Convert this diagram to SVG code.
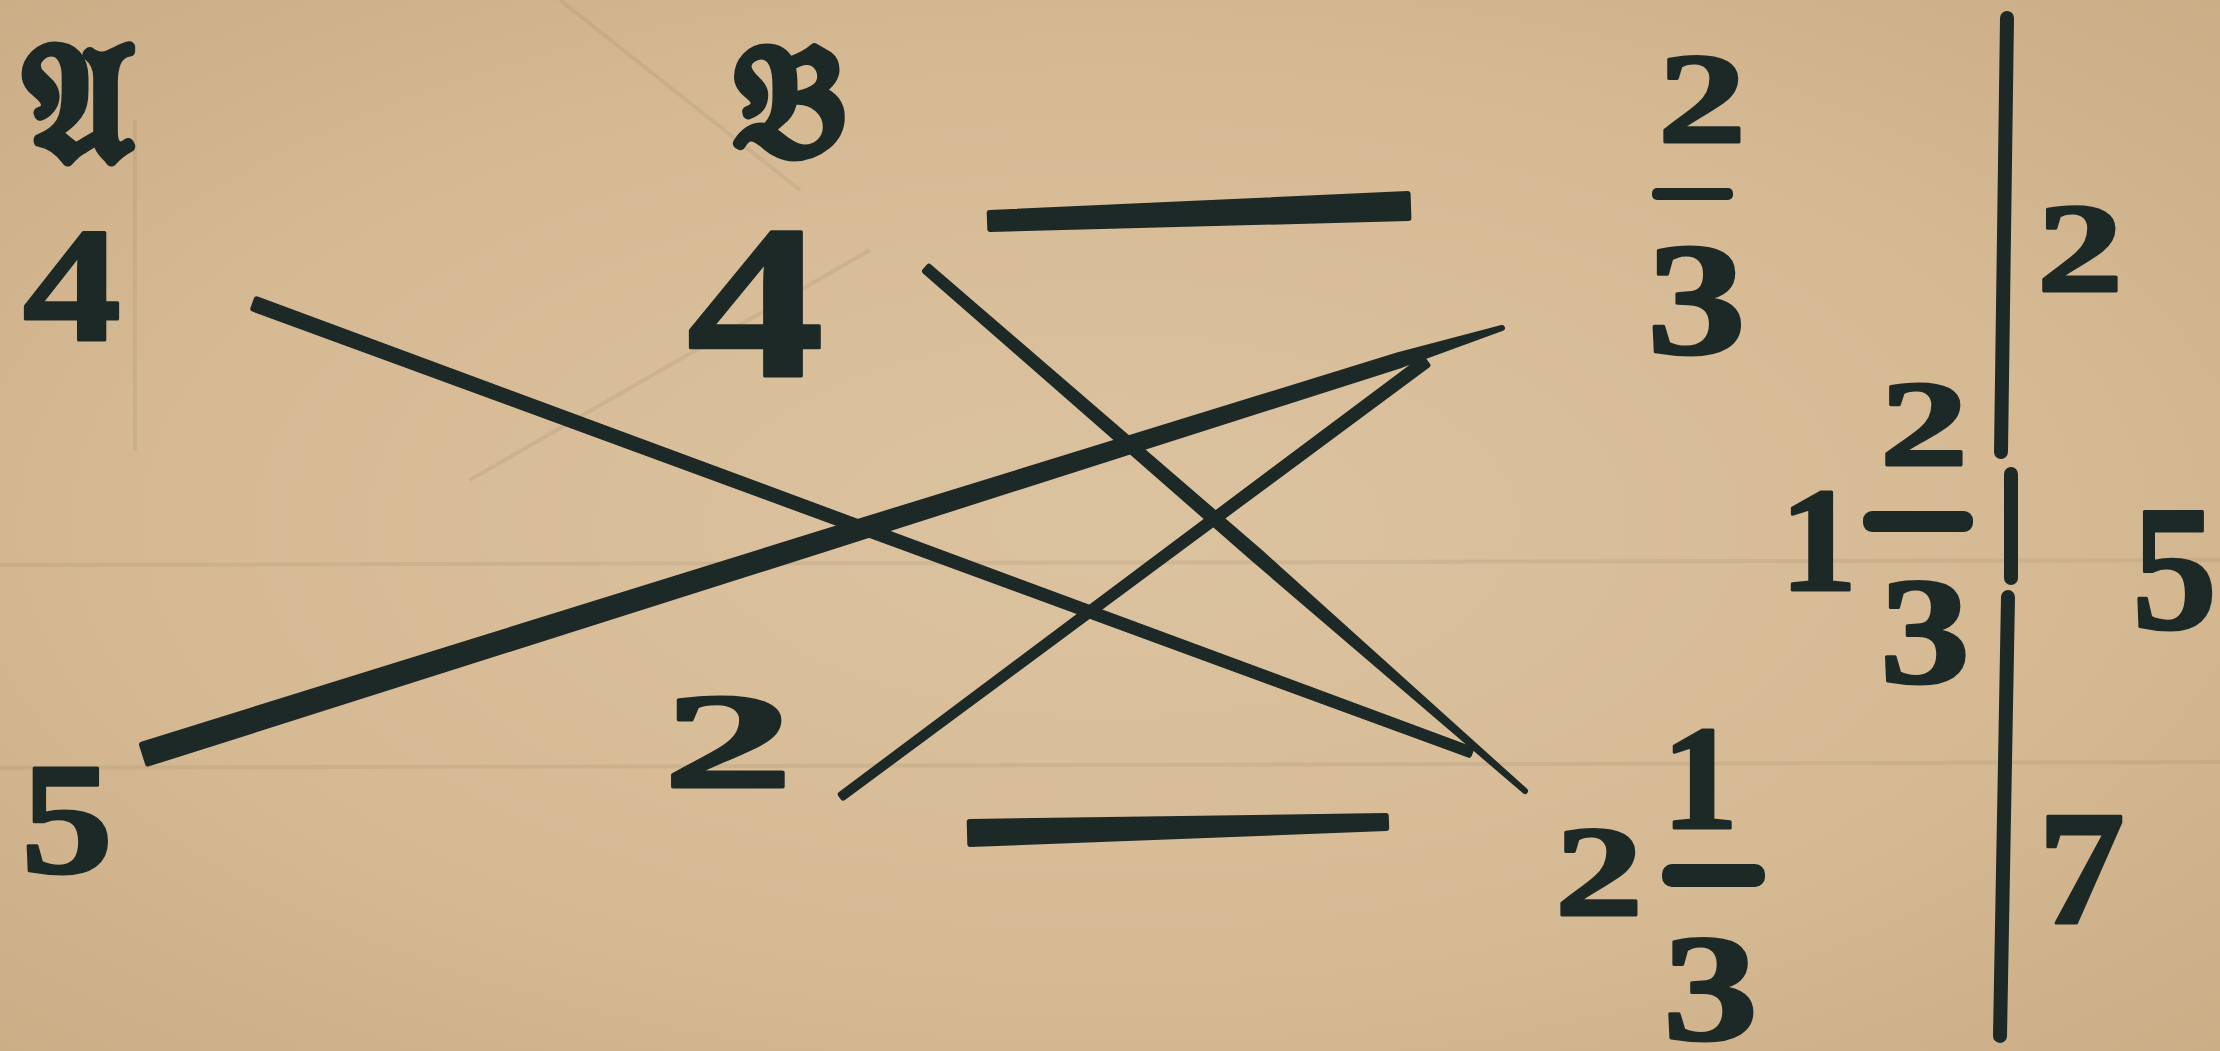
<svg xmlns="http://www.w3.org/2000/svg" width="2220" height="1051" viewBox="0 0 2220 1051">
  <defs>
    <radialGradient id="paper" cx="50%" cy="50%" r="75%">
      <stop offset="0" stop-color="#dcc3a0"/>
      <stop offset="0.6" stop-color="#d5b993"/>
      <stop offset="1" stop-color="#c9ab84"/>
    </radialGradient>
    <style>
      .ink { fill: #1d2926; }
      .stroke { fill: #1d2926; stroke: #1d2926; stroke-width: 6; stroke-linejoin: round; }
      .rule { stroke: #1d2926; stroke-width: 14; stroke-linecap: round; fill: none; }
      .ghost { stroke: #6e5c42; stroke-width: 4; opacity: 0.1; fill: none; }
      .num { font-family: "Liberation Serif", "DejaVu Serif", serif; font-weight: bold; fill: #1d2926; stroke: #1d2926; stroke-width: 3; stroke-linejoin: round; }
      .frak { font-family: "DejaVu Serif", "DejaVu Sans", "Noto Sans", "Liberation Serif", serif; font-weight: bold; fill: #1d2926; stroke: #1d2926; stroke-width: 6; stroke-linejoin: round; }
    </style>
  </defs>

  <rect width="2220" height="1051" fill="url(#paper)"/>

  <!-- faint show-through on the paper -->
  <g id="paper-marks">
    <line class="ghost" x1="0" y1="565" x2="2220" y2="560"/>
    <line class="ghost" x1="0" y1="768" x2="2220" y2="762"/>
    <line class="ghost" x1="470" y1="480" x2="870" y2="250"/>
    <line class="ghost" x1="560" y1="0" x2="800" y2="190"/>
    <line class="ghost" x1="135" y1="120" x2="135" y2="450"/>
  </g>

  <!-- connectors -->
  <g id="connectors">
    <!-- top horizontal -->
    <polygon class="stroke" points="990.3,229 1408.4,218 1407.6,194 989.7,213"/>
    <!-- bottom horizontal -->
    <polygon class="stroke" points="970.3,844 1386.2,828 1385.8,816 969.7,822"/>
    <!-- L1: from left 4 down to bottom right -->
    <polygon class="stroke" points="253.3,308.7 1469,754.8 1471,749.2 256.7,299.3"/>
    <!-- L2: from middle 4 down to bottom right tip -->
    <polygon class="stroke" points="925,271.3 1254,559 1525,791 1260,552.2 929,266.7"/>
    <!-- L3: from bottom-left 5 up to top right tip -->
    <polygon class="stroke" points="148,763.5 822.4,549.6 1401.5,364.8 1502,328 1398.5,355.2 817.6,534.4 142,744.5"/>
    <!-- L4: from 2 up to top right -->
    <polygon class="stroke" points="843.2,797.6 1427.4,365.2 1422.6,358.8 840.8,794.4"/>
    <!-- vertical divider -->
    <line class="rule" x1="2007" y1="18" x2="2001" y2="452"/>
    <line class="rule" x1="2011" y1="474" x2="2011" y2="578"/>
    <line class="rule" x1="2008" y1="597" x2="2000" y2="1036"/>
  </g>

  <!-- nodes -->
  <g id="node-A">
    <text class="frak" x="78" y="160" font-size="165" text-anchor="middle">𝔄</text>
  </g>
  <g id="node-B">
    <text class="frak" x="790" y="155" font-size="155" text-anchor="middle">𝔅</text>
  </g>
  <g id="node-A-4">
    <text class="num" x="23" y="340" font-size="163" textLength="98" lengthAdjust="spacingAndGlyphs">4</text>
  </g>
  <g id="node-B-4">
    <text class="num" x="687" y="376" font-size="219" textLength="137" lengthAdjust="spacingAndGlyphs">4</text>
  </g>
  <g id="node-5-left">
    <text class="num" x="21" y="872" font-size="158" textLength="92" lengthAdjust="spacingAndGlyphs">5</text>
  </g>
  <g id="node-2-middle">
    <text class="num" x="663" y="787" font-size="136" textLength="130" lengthAdjust="spacingAndGlyphs">2</text>
  </g>

  <g id="node-frac-top">
    <text class="num" x="1658" y="142" font-size="129" textLength="88" lengthAdjust="spacingAndGlyphs">2</text>
    <rect class="ink" x="1652" y="188" width="81" height="12" rx="5"/>
    <text class="num" x="1647" y="353" font-size="160" textLength="99" lengthAdjust="spacingAndGlyphs">3</text>
  </g>
  <g id="node-frac-middle">
    <text class="num" x="1780" y="590" font-size="148" textLength="77" lengthAdjust="spacingAndGlyphs">1</text>
    <text class="num" x="1880" y="465" font-size="123" textLength="88" lengthAdjust="spacingAndGlyphs">2</text>
    <rect class="ink" x="1863" y="511" width="110" height="21" rx="9"/>
    <text class="num" x="1880" y="683" font-size="152" textLength="90" lengthAdjust="spacingAndGlyphs">3</text>
  </g>
  <g id="node-frac-bottom">
    <text class="num" x="1555" y="915" font-size="129" textLength="88" lengthAdjust="spacingAndGlyphs">2</text>
    <text class="num" x="1662" y="828" font-size="148" textLength="76" lengthAdjust="spacingAndGlyphs">1</text>
    <rect class="ink" x="1662" y="864" width="103" height="23" rx="10"/>
    <text class="num" x="1663" y="1040" font-size="152" textLength="95" lengthAdjust="spacingAndGlyphs">3</text>
  </g>

  <g id="node-2-right">
    <text class="num" x="2037" y="291" font-size="127" textLength="86" lengthAdjust="spacingAndGlyphs">2</text>
  </g>
  <g id="node-5-right">
    <text class="num" x="2132" y="628" font-size="178" textLength="85" lengthAdjust="spacingAndGlyphs">5</text>
  </g>
  <g id="node-7-right">
    <text class="num" x="2038" y="923" font-size="164" textLength="87" lengthAdjust="spacingAndGlyphs">7</text>
  </g>
</svg>
